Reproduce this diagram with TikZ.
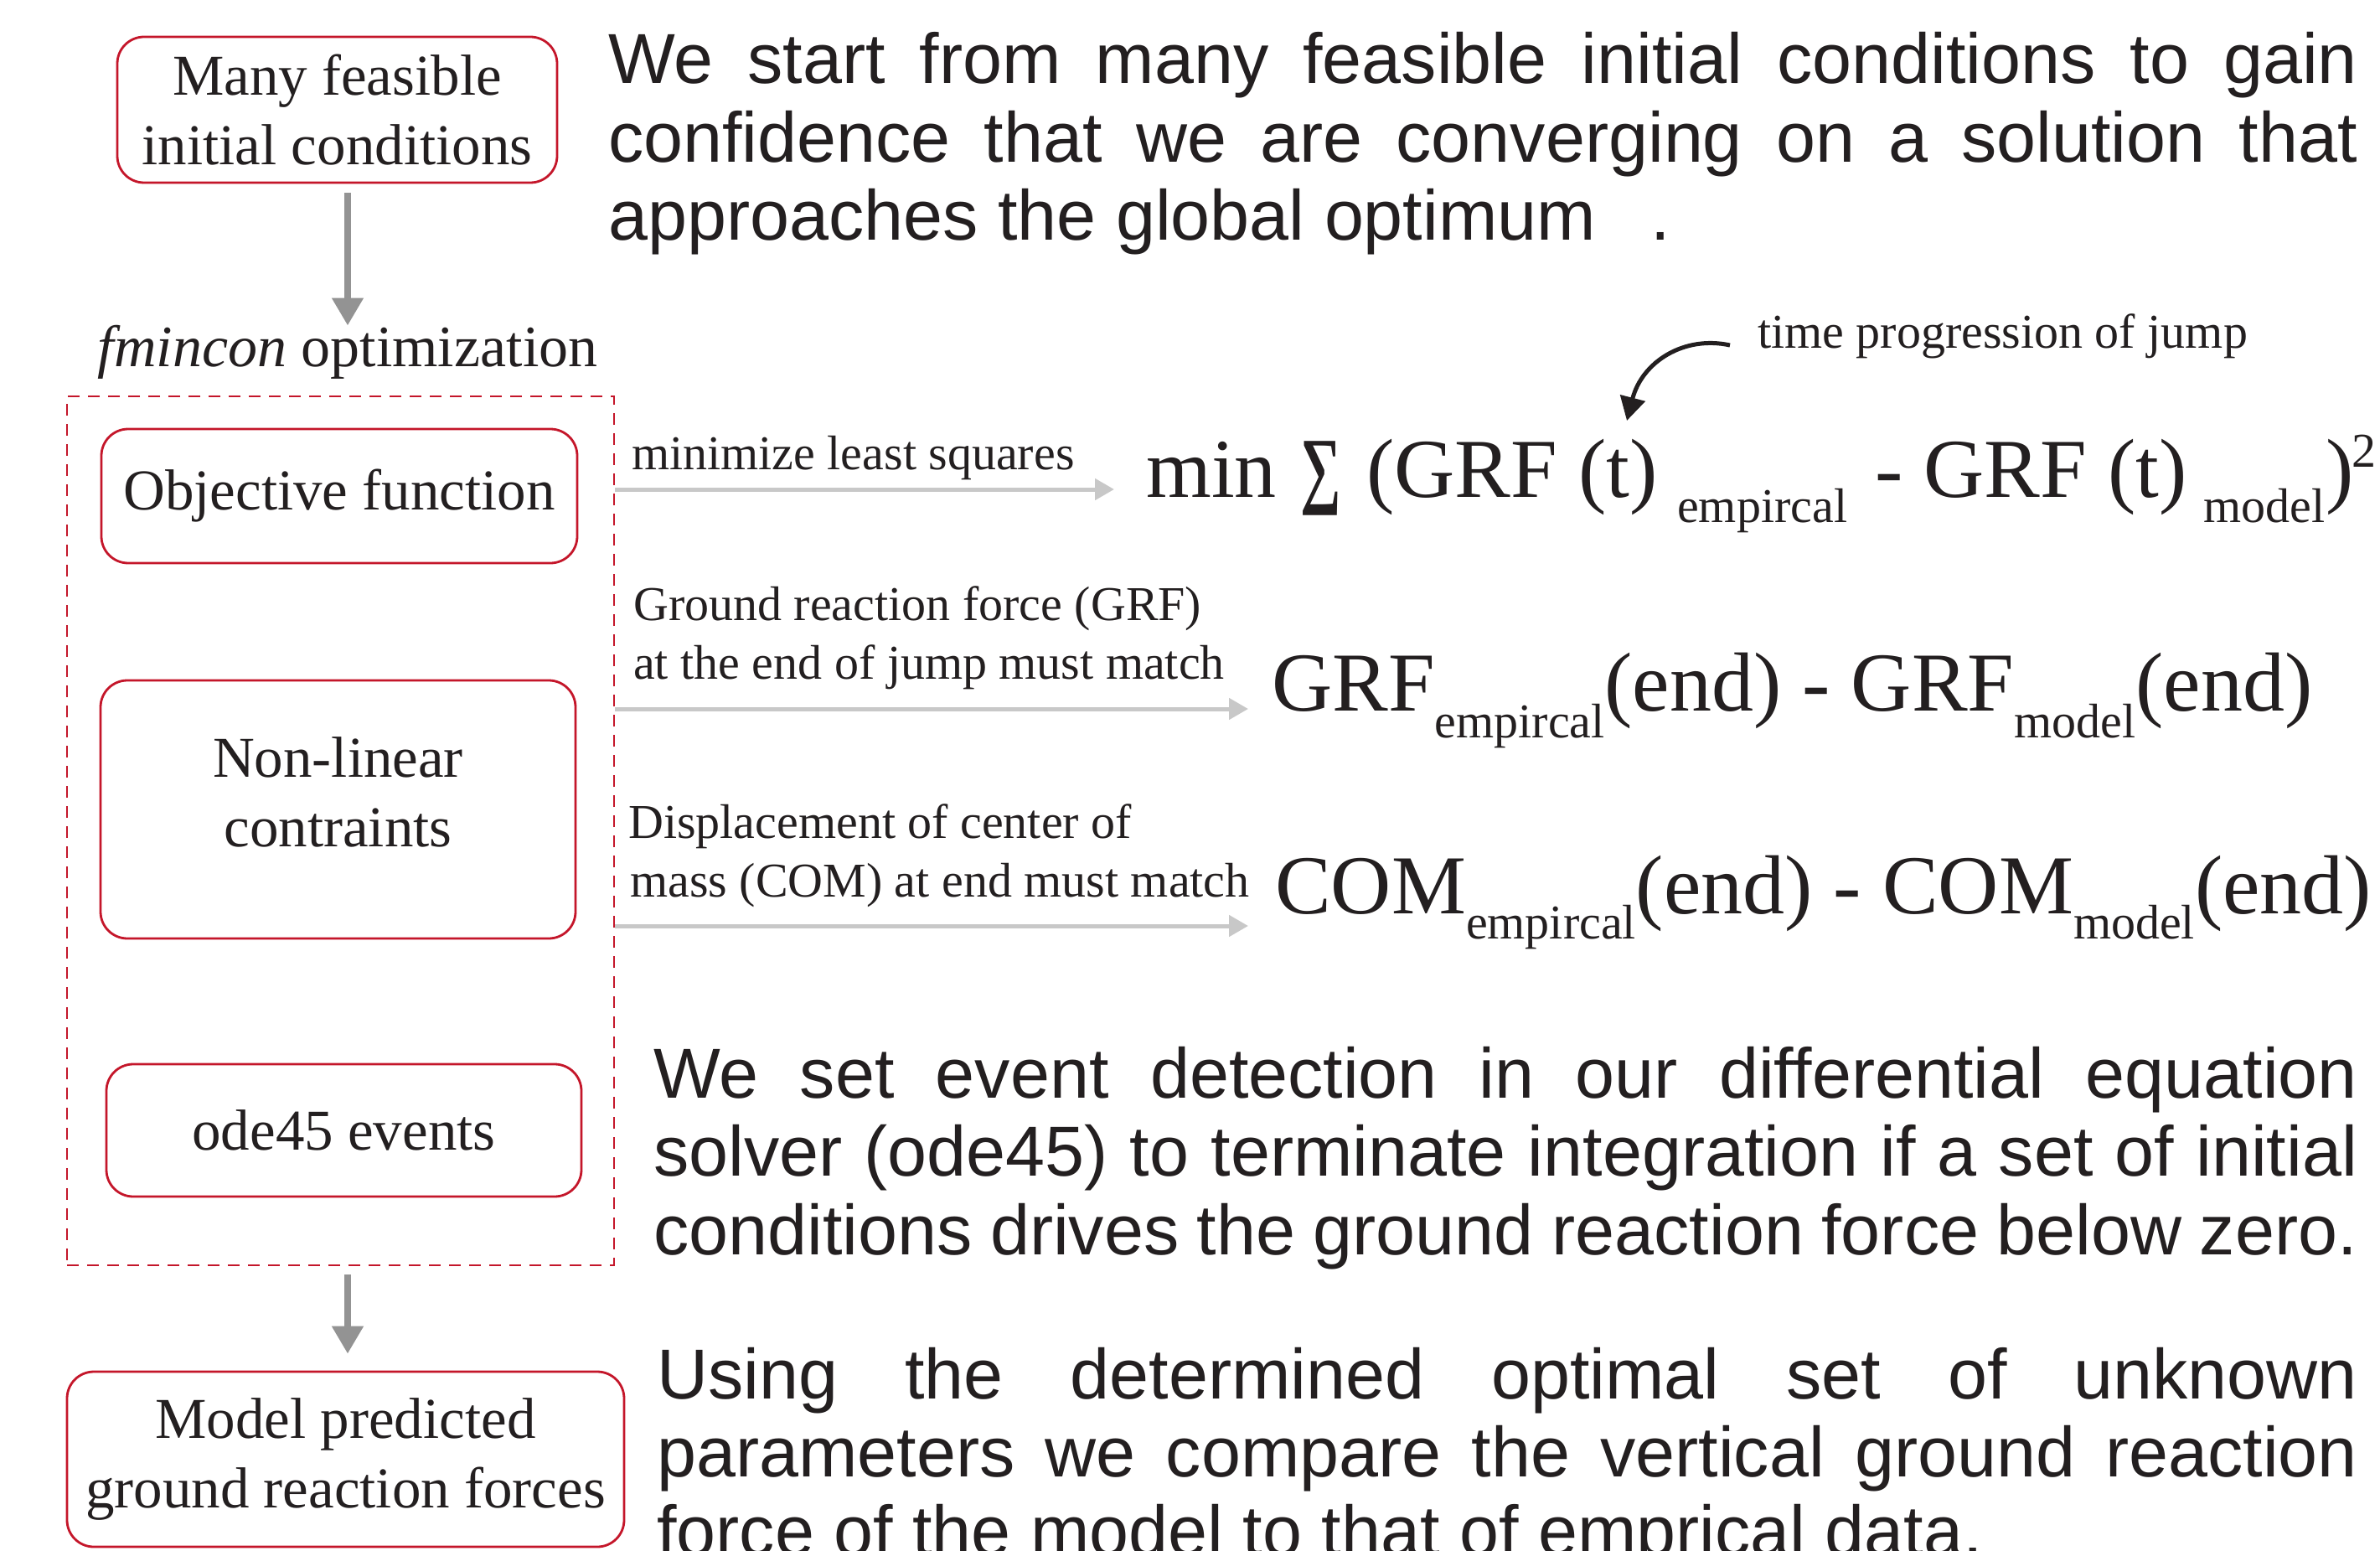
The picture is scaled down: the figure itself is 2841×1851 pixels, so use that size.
\documentclass[tikz,border=0pt]{standalone}
\usepackage{fontspec}
\setmainfont{Liberation Serif}
\newfontfamily\parasans{Liberation Sans}
\usetikzlibrary{arrows.meta}
\definecolor{boxred}{RGB}{196,22,42}
\definecolor{ink}{RGB}{35,31,32}
\definecolor{darkgrey}{RGB}{147,147,147}
\definecolor{lightgrey}{RGB}{200,200,200}
\newcommand\boxfnt{\fontsize{69}{83}\selectfont}
\newcommand\labfnt{\fontsize{58}{70}\selectfont}
\newcommand\eqbig{\fontsize{100}{100}\selectfont}
\newcommand\eqsmall{\fontsize{58}{58}\selectfont}
\newcommand\parfnt{\parasans\fontsize{84.5}{93.5}\selectfont}
\begin{document}
\begin{tikzpicture}[x=1pt,y=-1pt,
  redbox/.style={draw=boxred, line width=2.8pt, rounded corners=32pt, inner sep=0pt,
    align=center, font=\boxfnt, text=ink},
  dashbox/.style={draw=boxred, line width=2.5pt, dash pattern=on 14pt off 10pt, inner sep=0pt},
  txt/.style={inner sep=0pt, text=ink},
  para/.style={txt, anchor=base west, font=\parfnt},
  lab/.style={txt, anchor=base west, font=\labfnt},
  big/.style={txt, anchor=base west, font=\eqbig},
  small/.style={txt, anchor=base west, font=\eqsmall},
  darkarrow/.style={draw=darkgrey, line width=8pt, -{Triangle[length=33pt,width=36pt]}},
  lightarrow/.style={draw=lightgrey, line width=5pt, -{Triangle[length=23pt,width=25pt]}},
  curvearrow/.style={draw=ink, line width=5pt, -{Triangle[length=28pt,width=30pt]}}
]
\useasboundingbox (0,0) rectangle (2841,1851);

% left column
\node[redbox, minimum width=525pt, minimum height=174pt] (box1) at (402.5,131) {Many feasible\\initial conditions};
\node[txt, anchor=base, font=\fontsize{70}{84}\selectfont] (fmin) at (415,438) {\textit{fmincon} optimization};
\node[dashbox, minimum width=653pt, minimum height=1037pt] (opt) at (406.5,991.5) {};
\node[redbox, minimum width=568pt, minimum height=160pt] (obj) at (405,592) {Objective function};
\node[redbox, minimum width=567pt, minimum height=308pt, text depth=42pt] (nlc) at (403.5,966) {Non-linear\\contraints};
\node[redbox, minimum width=567pt, minimum height=158pt] (ode) at (410.5,1349) {ode45 events};
\node[redbox, minimum width=665pt, minimum height=209pt] (model) at (412.5,1741.5) {Model predicted\\ground reaction forces};

\draw[darkarrow, shorten <=11pt] (box1.south -| fmin.north) -- (fmin.north);
\draw[darkarrow, shorten <=10pt, shorten >=20pt] (opt.south -| fmin.north) -- (model.north -| fmin.north);

% paragraphs
\node[para] (p1a) at (726,100) {\makebox[2088pt][s]{We start from many feasible initial conditions to gain}};
\node[para] (p1b) at (726,193.5) {\makebox[2088pt][s]{confidence that we are converging on a solution that}};
\node[para] (p1c) at (726,287) {approaches the global optimum\hspace{66pt}.};

\node[para] (p2a) at (780,1310) {\makebox[2034pt][s]{We set event detection in our differential equation}};
\node[para] (p2b) at (780,1403.5) {\makebox[2034pt][s]{solver (ode45) to terminate integration if a set of initial}};
\node[para] (p2c) at (780,1497) {\makebox[2034pt][s]{conditions drives the ground reaction force below zero.}};

\node[para] (p3a) at (784,1669) {\makebox[2030pt][s]{Using the determined optimal set of unknown}};
\node[para] (p3b) at (784,1762.5) {\makebox[2030pt][s]{parameters we compare the vertical ground reaction}};
\node[para] (p3c) at (784,1856) {force of the model to that of emprical data.};

% labels on arrows
\node[lab] (l1) at (754,560) {minimize least squares};
\node[lab] (l2a) at (756,740) {Ground reaction force (GRF)};
\node[lab] (l2b) at (756,810) {at the end of jump must match};
\node[lab] (l3a) at (750,1000) {Displacement of center of};
\node[lab] (l3b) at (752,1070) {mass (COM) at end must match};
\node[lab] (lt) at (2098,416) {time progression of jump};

% formula 1
\node[big] (f1min) at (1368,593) {min};
\node[big] (f1sum) at (1552,593) {\scalebox{0.68}[1.02]{\bfseries ∑}};
\node[big] (f1a) at (1631,593) {(GRF (t)};
\node[small] (f1e) at (2002,623) {empircal};
\node[big] (f1b) at (2238,593) {- GRF (t)};
\node[small] (f1m) at (2630,623) {model};
\node[big] (f1c) at (2776,593) {)};
\node[small] (f1s) at (2807,557) {2};

% formula 2 and 3
\node[big] (f2) at (1518,848) {GRF\raisebox{-32pt}{\eqsmall empircal}(end) - GRF\raisebox{-32pt}{\eqsmall model}(end)};
\node[big] (f3) at (1522,1090) {COM\raisebox{-30pt}{\eqsmall empircal}(end) - COM\raisebox{-30pt}{\eqsmall model}(end)};

% light arrows
\coordinate (a1e) at (1330,584);
\coordinate (a2e) at (1490,846);
\coordinate (a3e) at (1490,1105);
\draw[lightarrow] (opt.east |- a1e) -- (a1e);
\draw[lightarrow] (opt.east |- a2e) -- (a2e);
\draw[lightarrow] (opt.east |- a3e) -- (a3e);

% curved arrow
\coordinate (cs) at (2065,412);
\coordinate (ce) at (1942,502);
\draw[curvearrow] (cs) .. controls (2010,400) and (1960,432) .. (ce);
\end{tikzpicture}
\end{document}
